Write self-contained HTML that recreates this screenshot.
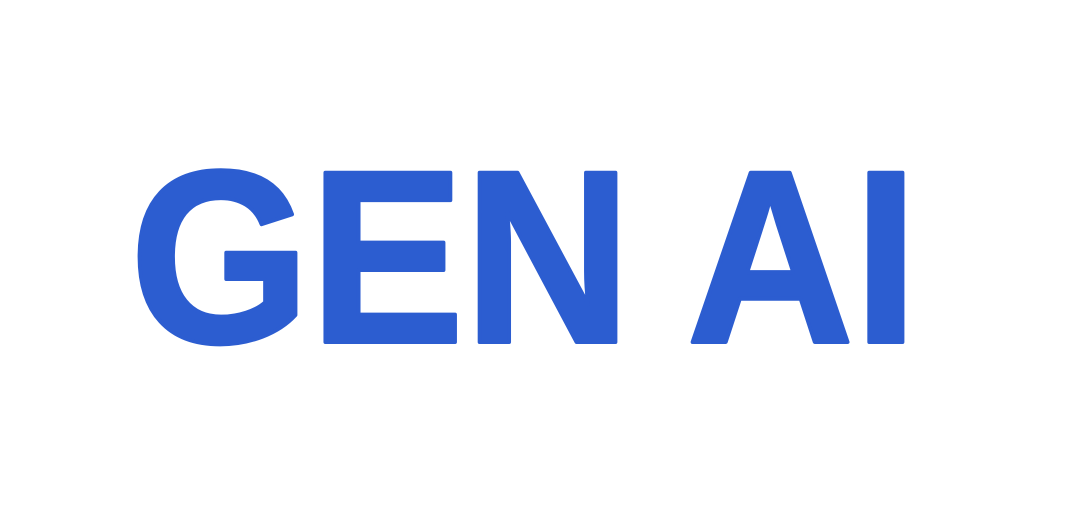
<!DOCTYPE html>
<html>
<head>
<meta charset="utf-8">
<style>
  html, body { margin: 0; padding: 0; background: #ffffff; }
  body { width: 1076px; height: 522px; overflow: hidden; }
  svg { display: block; }
</style>
</head>
<body>
<svg width="1076" height="522" viewBox="0 0 1076 522">
  <rect x="0" y="0" width="1076" height="522" fill="#ffffff"/>
  <text x="130" y="342" font-family="Liberation Sans, Arial, sans-serif" font-weight="bold" font-size="246" fill="#2c5dd0" stroke="#2c5dd0" stroke-width="4" stroke-linejoin="round" textLength="788" lengthAdjust="spacingAndGlyphs">GEN AI</text>
</svg>
</body>
</html>
